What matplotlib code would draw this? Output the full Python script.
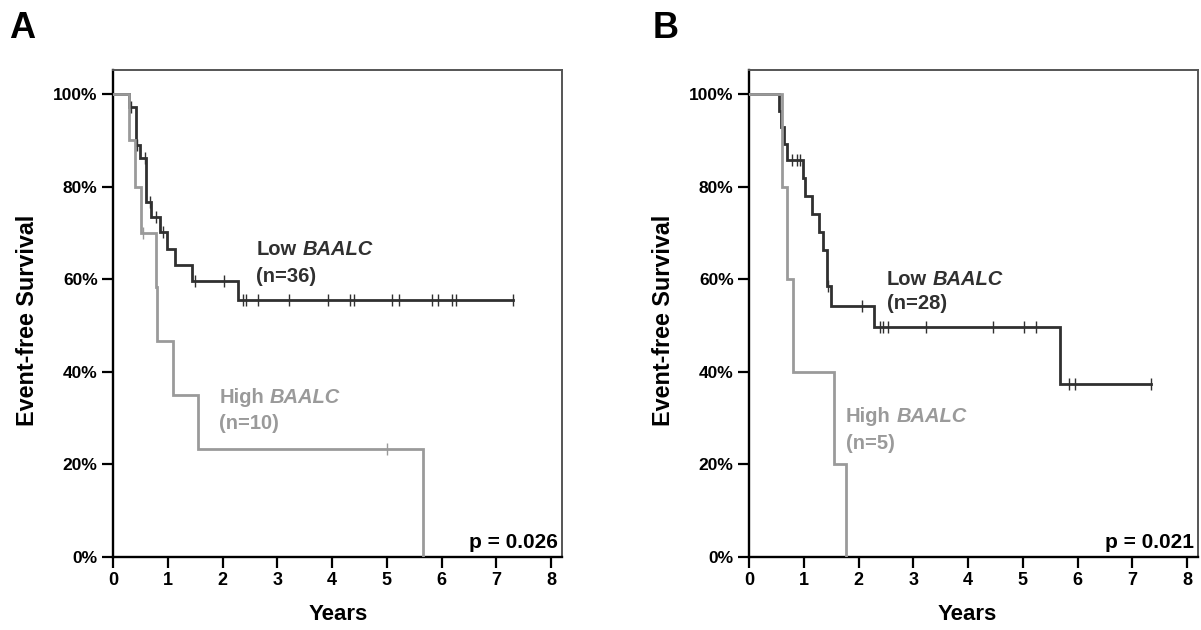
import numpy as np
import matplotlib
matplotlib.use("Agg")
import matplotlib.pyplot as plt

plt.rcParams['font.family'] = ['Liberation Sans', 'DejaVu Sans']
plt.rcParams['font.weight'] = 'bold'

# ---------------- Data (years, survival %) ----------------
# Panel A
a_low_times = [0, 0.30, 0.42, 0.49, 0.61, 0.70, 0.86, 0.99, 1.13, 1.44, 2.29]
a_low_surv = [100, 97.2, 88.9, 86.1, 76.6, 73.4, 70.1, 66.6, 63.1, 59.6, 55.5]
a_low_end = 7.31
a_low_cens = [0.33, 0.44, 0.58, 0.68, 0.78, 0.92, 1.50, 2.03, 2.38, 2.42, 2.64,
              3.22, 3.93, 4.32, 4.41, 5.09, 5.23, 5.83, 5.94, 6.19, 6.27, 7.31]
a_high_times = [0, 0.30, 0.40, 0.52, 0.79, 0.81, 1.10, 1.55, 5.66]
a_high_surv = [100, 90, 80, 70, 58.3, 46.7, 35.0, 23.3, 0]
a_high_end = 5.66
a_high_cens = [0.55, 5.01]

# Panel B
b_low_times = [0, 0.55, 0.59, 0.64, 0.70, 0.98, 1.02, 1.15, 1.28, 1.36, 1.42, 1.49, 2.28, 5.68]
b_low_surv = [100, 96.4, 92.9, 89.3, 85.7, 81.8, 78.0, 74.1, 70.3, 66.4, 58.5, 54.3, 49.7, 37.3]
b_low_end = 7.34
b_low_cens = [0.78, 0.87, 0.93, 1.45, 2.06, 2.39, 2.44, 2.53, 3.23, 4.46, 5.03, 5.25,
              5.84, 5.95, 7.34]
b_high_times = [0, 0.61, 0.69, 0.80, 1.55, 1.77]
b_high_surv = [100, 80, 60, 40, 20, 0]
b_high_end = 1.77
b_high_cens = []

y_ticks = [0, 20, 40, 60, 80, 100]
y_tick_labels = ['0%', '20%', '40%', '60%', '80%', '100%']
x_ticks = [0, 1, 2, 3, 4, 5, 6, 7, 8]

LOW_C = '#303030'
HIGH_C = '#9a9a9a'

W, H = 1201, 630
fig = plt.figure(figsize=(W / 100, H / 100), dpi=100)


def px_axes(l, r, t, b):
    return fig.add_axes([l / W, 1 - b / H, (r - l) / W, (b - t) / H])


def km(ax, times, surv, end, cens, color):
    t = list(times) + [end]
    s = list(surv) + [surv[-1]]
    ax.step(t, s, where='post', color=color, lw=2.0, solid_joinstyle='miter', zorder=3)
    if cens:
        ct = np.asarray(cens)
        idx = np.searchsorted(np.asarray(times), ct, side='right') - 1
        cy = np.asarray(surv)[idx]
        ax.plot(ct, cy, ls='none', marker='|', ms=8, mew=1.0, color=color, zorder=4)


def label(ax, x, y1, y2, word, n, color):
    t1 = ax.text(x, y1, word, color=color, fontsize=14.5, fontweight='bold',
                 ha='left', va='center')
    ax.annotate('BAALC', xy=(1, 0), xycoords=t1, xytext=(4, 0),
                textcoords='offset points', ha='left', va='bottom',
                color=color, fontsize=14.5, fontweight='bold', style='italic')
    ax.text(x, y2, f'(n={n})', color=color, fontsize=14.5, fontweight='bold',
            ha='left', va='center')


def style(ax, ptxt):
    ax.set_xlim(0, 8.2)
    ax.set_ylim(0, 105.2)
    ax.set_yticks(y_ticks)
    ax.set_yticklabels(y_tick_labels)
    ax.set_xticks(x_ticks)
    ax.tick_params(direction='out', length=8, width=1.6, labelsize=12.5, pad=3)
    ax.tick_params(axis='x', labelsize=13)
    for lab in ax.get_xticklabels() + ax.get_yticklabels():
        lab.set_fontweight('bold')
    for s in ['left', 'bottom']:
        ax.spines[s].set_color('black')
        ax.spines[s].set_linewidth(1.7)
    for s in ['top', 'right']:
        ax.spines[s].set_color('#555555')
        ax.spines[s].set_linewidth(1.4)
    ax.text(0.99, 0.03, ptxt, transform=ax.transAxes, ha='right', va='center',
            fontsize=15, fontweight='bold', color='black', zorder=5)


# Panel A
axA = px_axes(113, 562, 70, 557)
km(axA, a_low_times, a_low_surv, a_low_end, a_low_cens, LOW_C)
km(axA, a_high_times, a_high_surv, a_high_end, a_high_cens, HIGH_C)
style(axA, 'p = 0.026')
label(axA, 2.62, 66.4, 60.6, 'Low', 36, LOW_C)
label(axA, 1.94, 34.4, 28.8, 'High', 10, HIGH_C)

# Panel B
axB = px_axes(749, 1198, 70, 557)
km(axB, b_low_times, b_low_surv, b_low_end, b_low_cens, LOW_C)
km(axB, b_high_times, b_high_surv, b_high_end, b_high_cens, HIGH_C)
style(axB, 'p = 0.021')
label(axB, 2.52, 60.0, 54.7, 'Low', 28, LOW_C)
label(axB, 1.77, 30.3, 24.6, 'High', 5, HIGH_C)

# Axis titles and panel letters
for xc, yl_x, letter_x, letter in [(338, 28, 9, 'A'), (967, 663, 653, 'B')]:
    fig.text(xc / W, 1 - 615 / H, 'Years', ha='center', va='center',
             fontsize=16, fontweight='bold')
    fig.text(yl_x / W, 1 - 320 / H, 'Event-free Survival', rotation=90,
             ha='center', va='center', fontsize=16.8, fontweight='bold')
    fig.text(letter_x / W, 1 - 38 / H, letter, ha='left', va='baseline',
             fontsize=26, fontweight='heavy')

fig.savefig('out.png', dpi=100)
